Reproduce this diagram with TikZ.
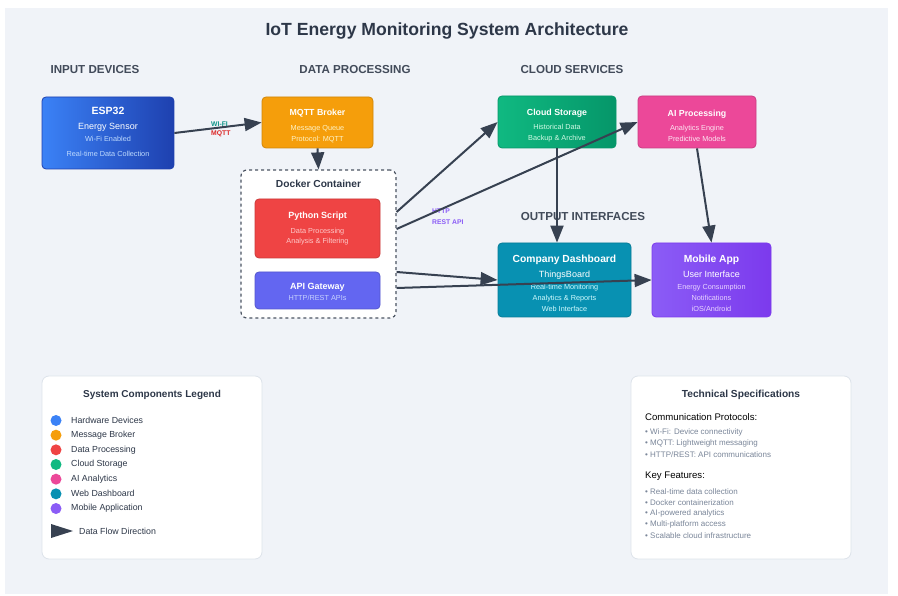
\documentclass[tikz,border=0pt]{standalone}
\usepackage{fontspec}
\setmainfont{Liberation Sans}
\usetikzlibrary{arrows.meta}

\definecolor{ink}{HTML}{2D3748}
\definecolor{flow}{HTML}{374151}
\definecolor{paper}{HTML}{F0F3F8}
\definecolor{edge}{HTML}{DDE3EA}
\definecolor{specgray}{HTML}{7A8699}
\definecolor{hwblue}{HTML}{3B82F6}
\definecolor{hwdark}{HTML}{1E40AF}
\definecolor{hwtext}{HTML}{BFDBFE}
\definecolor{brokerorange}{HTML}{F59E0B}
\definecolor{brokertext}{HTML}{FEF3C7}
\definecolor{procred}{HTML}{EF4444}
\definecolor{proctext}{HTML}{FECACA}
\definecolor{apiindigo}{HTML}{6366F1}
\definecolor{apitext}{HTML}{C7D2FE}
\definecolor{storegreen}{HTML}{10B981}
\definecolor{storedark}{HTML}{059669}
\definecolor{storetext}{HTML}{D1FAE5}
\definecolor{aipink}{HTML}{EC4899}
\definecolor{aitext}{HTML}{FCE7F3}
\definecolor{webteal}{HTML}{0891B2}
\definecolor{webtext}{HTML}{CFFAFE}
\definecolor{appviolet}{HTML}{8B5CF6}
\definecolor{appdark}{HTML}{7C3AED}
\definecolor{apptext}{HTML}{E9D5FF}
\definecolor{wifigreen}{HTML}{0D9488}
\definecolor{mqttred}{HTML}{DC2626}

\tikzstyle{comp}=[draw, rounded corners=4pt, line width=0.8pt, inner sep=0pt]
\tikzstyle{blurb}=[align=center, text=white, inner sep=0pt, font=\fontsize{7.3}{11}\selectfont]
\tikzstyle{flowline}=[draw=flow, line width=2pt, -{Triangle[length=17pt,width=13pt]}]
\tikzstyle{header}=[font=\fontsize{11.6}{12}\selectfont\bfseries, text=ink!90]
\tikzstyle{panel}=[draw=edge, fill=white, rounded corners=7pt, line width=0.8pt, minimum width=220pt, minimum height=183pt]
\tikzstyle{tag}=[font=\fontsize{6.8}{7}\selectfont\bfseries, inner sep=0pt, anchor=west]

\begin{document}
\begin{tikzpicture}[x=1pt,y=-1pt]
\useasboundingbox (0,0) rectangle (898,596);
\fill[white] (0,0) rectangle (898,596);
\fill[paper] (5,8) rectangle (888,594);

\node[font=\fontsize{17.6}{18}\selectfont\bfseries, text=ink] (title) at (447,31) {IoT Energy Monitoring System Architecture};

\node[header] (hin) at (95,70) {INPUT DEVICES};
\node[header] (hproc) at (355,70) {DATA PROCESSING};
\node[header] (hcloud) at (572,70) {CLOUD SERVICES};
\node[header] (hout) at (583,217) {OUTPUT INTERFACES};

% input
\node[comp, draw=hwdark, left color=hwblue, right color=hwdark, minimum width=132pt, minimum height=72pt] (esp) at (108,133) {};
\node[blurb] (esptxt) at ([yshift=1pt]esp.center)
  {{\fontsize{10.5}{11}\selectfont\bfseries ESP32}\\[4pt]{\fontsize{9}{11}\selectfont Energy Sensor}\\[1pt]{\color{hwtext}Wi-Fi Enabled}\\[4pt]{\color{hwtext}Real-time Data Collection}};

% processing
\node[comp, draw=brokerorange!85!black, fill=brokerorange, minimum width=111pt, minimum height=51pt] (mqtt) at (317.5,122.5) {};
\node[blurb] (mqtttxt) at ([yshift=-3.5pt]mqtt.center)
  {{\fontsize{8.8}{11}\selectfont\bfseries MQTT Broker}\\[4pt]{\color{brokertext}Message Queue}\\[0pt]{\color{brokertext}Protocol: MQTT}};

\node[draw=flow!90, fill=white, dashed, dash pattern=on 3pt off 3pt, line width=1.2pt, rounded corners=6pt, minimum width=155pt, minimum height=148pt] (docker) at (318.5,244) {};
\node[font=\fontsize{10.2}{11}\selectfont\bfseries, text=ink] (dockerlbl) at (318.5,184) {Docker Container};

\node[comp, draw=procred!85!black, fill=procred, minimum width=125pt, minimum height=59pt] (python) at (317.5,228.5) {};
\node[blurb] (pythontxt) at (python.center)
  {{\fontsize{9}{11}\selectfont\bfseries Python Script}\\[4pt]{\color{proctext}Data Processing}\\[-1pt]{\color{proctext}Analysis \& Filtering}};

\node[comp, draw=apiindigo!85!black, fill=apiindigo, minimum width=125pt, minimum height=37pt] (api) at (317.5,290.5) {};
\node[blurb] (apitxt) at ([yshift=-1pt]api.center)
  {{\fontsize{9}{11}\selectfont\bfseries API Gateway}\\[0pt]{\color{apitext}HTTP/REST APIs}};

% cloud
\node[comp, draw=storedark, left color=storegreen, right color=storedark, minimum width=118pt, minimum height=52pt] (store) at (557,122) {};
\node[blurb] (storetxt) at ([yshift=-3.5pt]store.center)
  {{\fontsize{8.8}{11}\selectfont\bfseries Cloud Storage}\\[3pt]{\color{storetext}Historical Data}\\[0pt]{\color{storetext}Backup \& Archive}};

\node[comp, draw=aipink!85!black, fill=aipink, minimum width=118pt, minimum height=52pt] (ai) at (697,122) {};
\node[blurb] (aitxt) at ([yshift=-3.5pt]ai.center)
  {{\fontsize{8.8}{11}\selectfont\bfseries AI Processing}\\[3pt]{\color{aitext}Analytics Engine}\\[0pt]{\color{aitext}Predictive Models}};

% output
\node[comp, draw=webteal!85!black, fill=webteal, minimum width=133pt, minimum height=74pt] (dash) at (564.5,280) {};
\node[blurb] (dashtxt) at ([yshift=-3.5pt]dash.center)
  {{\fontsize{10.3}{11}\selectfont\bfseries Company Dashboard}\\[4pt]{\fontsize{9}{11}\selectfont ThingsBoard}\\[1pt]{\color{webtext}Real-time Monitoring}\\[0pt]{\color{webtext}Analytics \& Reports}\\[0pt]{\color{webtext}Web Interface}};

\node[comp, draw=appdark, left color=appviolet, right color=appdark, minimum width=119pt, minimum height=74pt] (app) at (711.5,280) {};
\node[blurb] (apptxt) at ([yshift=-3.5pt]app.center)
  {{\fontsize{10.3}{11}\selectfont\bfseries Mobile App}\\[4pt]{\fontsize{9}{11}\selectfont User Interface}\\[1pt]{\color{apptext}Energy Consumption}\\[0pt]{\color{apptext}Notifications}\\[0pt]{\color{apptext}iOS/Android}};

% data flow
\draw[flowline] (esp.east) -- (mqtt.west);
\node[tag, text=wifigreen] (wifi) at (211,124) {WI-FI};
\node[tag, text=mqttred] (mqtttag) at (211,134) {MQTT};
\draw[flowline] (mqtt.south) -- (docker.north);
\node[tag, text=appviolet] (http) at (432,211) {HTTP};
\node[tag, text=appviolet] (rest) at (432,222) {REST API};
\draw[flowline] ([yshift=32pt]docker.east) -- (store.west);
\draw[flowline] ([yshift=15pt]docker.east) -- (ai.west);
\draw[flowline] (store.south) -- (store.south |- dash.north);
\draw[flowline] (ai.south) -- (app.north);
\draw[flowline] ([yshift=-28pt]docker.east) -- (dash.west);
\draw[flowline] ([yshift=-44pt]docker.east) -- (app.west);

% legend
\node[panel] (legend) at (152,467.5) {};
\node[font=\fontsize{10}{11}\selectfont\bfseries, text=ink] (legtitle) at (152,395) {System Components Legend};
\foreach \c/\t [count=\i] in {hwblue/Hardware Devices, brokerorange/Message Broker, procred/Data Processing, storegreen/Cloud Storage, aipink/AI Analytics, webteal/Web Dashboard, appviolet/Mobile Application}{
  \node[circle, fill=\c, minimum size=11pt, inner sep=0pt] (dot\i) at (56,{420.5+14.67*(\i-1)}) {};
  \node[anchor=west, font=\fontsize{8.8}{9}\selectfont, text=ink, inner sep=0pt] (leg\i) at (71,{420.5+14.67*(\i-1)}) {\t};
}
\fill[flow] (51,524) -- (73,531) -- (51,538) -- cycle;
\node[anchor=west, font=\fontsize{8.8}{9}\selectfont, text=ink, inner sep=0pt] (legflow) at (79,531) {Data Flow Direction};

% specs
\node[panel] (spec) at (741,467.5) {};
\node[font=\fontsize{10.2}{11}\selectfont\bfseries, text=ink] (spectitle) at (741,395) {Technical Specifications};
\node[anchor=west, font=\fontsize{9.6}{10}\selectfont, text=black, inner sep=0pt] (proto) at (645,417) {Communication Protocols:};
\foreach \t [count=\i] in {Wi-Fi: Device connectivity, MQTT: Lightweight messaging, HTTP/REST: API communications}{
  \node[anchor=west, font=\fontsize{8}{9}\selectfont, text=specgray, inner sep=0pt] (proto\i) at (645,{432.5+11*(\i-1)}) {• \t};
}
\node[anchor=west, font=\fontsize{9.6}{10}\selectfont, text=black, inner sep=0pt] (feat) at (645,476) {Key Features:};
\foreach \t [count=\i] in {Real-time data collection, Docker containerization, AI-powered analytics, Multi-platform access, Scalable cloud infrastructure}{
  \node[anchor=west, font=\fontsize{8}{9}\selectfont, text=specgray, inner sep=0pt] (feat\i) at (645,{491.5+11*(\i-1)}) {• \t};
}
\end{tikzpicture}
\end{document}
